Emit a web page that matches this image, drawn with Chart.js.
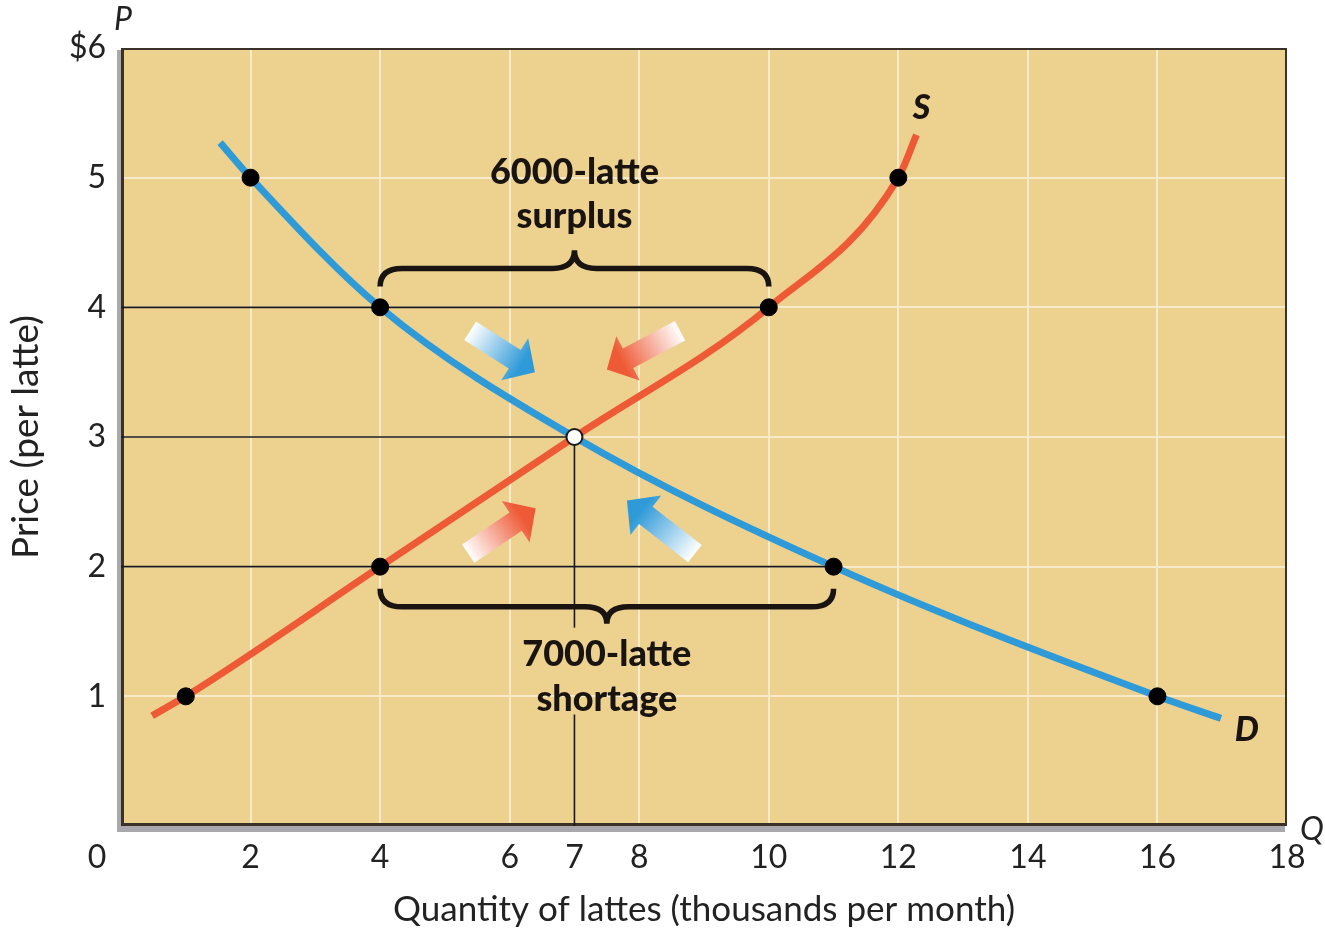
<!DOCTYPE html>
<html lang="en">
<head>
<meta charset="UTF-8">
<title>Latte market: surplus and shortage</title>
<script src="https://cdn.jsdelivr.net/npm/chart.js"></script>
<style>
  html, body { margin: 0; padding: 0; background: #fff; }
  canvas { display: block; }
</style>
</head>
<body>
<canvas id="latteChart" width="1325" height="935"></canvas>
<script>
// demand / supply curves (Q in thousands of lattes, P in $)
const demandQ = [1.53, 2, 4, 7, 11, 16, 16.98];
const demandP = [5.27, 5, 4, 3, 2, 1, 0.83];
const supplyQ = [0.48, 1, 4, 7, 10, 12, 12.28];
const supplyP = [0.85, 1, 2, 3, 4, 5, 5.33];

// black dots on the curves
const dotQ = [2, 4, 11, 16, 1, 4, 10, 12];
const dotP = [5, 4, 2, 1, 1, 2, 4, 5];
// equilibrium
const eqQ = [7];
const eqP = [3];

const xTicks = [0, 2, 4, 6, 7, 8, 10, 12, 14, 16, 18];
const yTicks = [0, 1, 2, 3, 4, 5, 6];

const BLUE = '#2f9ad8';
const RED = '#ee5a36';
const PLOT_BG = '#ecd18f';
const GRID = '#f7eacb';

// helper lines [q0, p0, q1, p1]
const guides = [
  [0, 4, 10, 4],
  [0, 3, 7, 3],
  [0, 2, 11, 2],
  [7, 3, 7, 1.53],
  [7, 0.86, 7, 0]
];

// gradient arrows: tail -> tip
const arrows = [
  { from: [5.39, 3.82], to: [6.39, 3.50], color: BLUE },
  { from: [8.63, 3.82], to: [7.50, 3.52], color: RED },
  { from: [5.36, 2.10], to: [6.40, 2.45], color: RED },
  { from: [8.86, 2.10], to: [7.81, 2.51], color: BLUE }
];

function toXY(q, p) {
  return q.map((v, i) => ({ x: v, y: p[i] }));
}

function px(chart, q, p) {
  return [chart.scales.x.getPixelForValue(q), chart.scales.y.getPixelForValue(p)];
}

function drawArrow(ctx, x0, y0, x1, y1, color) {
  const len = Math.hypot(x1 - x0, y1 - y0);
  ctx.save();
  ctx.translate(x0, y0);
  ctx.rotate(Math.atan2(y1 - y0, x1 - x0));
  const g = ctx.createLinearGradient(0, 0, len, 0);
  g.addColorStop(0, '#ffffff');
  g.addColorStop(0.8, color);
  ctx.fillStyle = g;
  const sw = 11, hw = 25, hl = 24;
  ctx.beginPath();
  ctx.moveTo(0, -sw);
  ctx.lineTo(len - hl, -sw);
  ctx.lineTo(len - hl, -hw);
  ctx.lineTo(len, 0);
  ctx.lineTo(len - hl, hw);
  ctx.lineTo(len - hl, sw);
  ctx.lineTo(0, sw);
  ctx.closePath();
  ctx.fill();
  ctx.restore();
}

function drawBrace(ctx, xl, xr, xm, yLine, yTip, yPeak) {
  const r = 22;
  ctx.beginPath();
  ctx.moveTo(xl, yTip);
  ctx.quadraticCurveTo(xl, yLine, xl + r, yLine);
  ctx.lineTo(xm - r, yLine);
  ctx.quadraticCurveTo(xm, yLine, xm, yPeak);
  ctx.quadraticCurveTo(xm, yLine, xm + r, yLine);
  ctx.lineTo(xr - r, yLine);
  ctx.quadraticCurveTo(xr, yLine, xr, yTip);
  ctx.stroke();
}

// plot background, shadow and frame
const framePlugin = {
  id: 'frame',
  beforeDraw(chart) {
    const { ctx, chartArea: a } = chart;
    ctx.save();
    ctx.fillStyle = '#a9a9ad';
    ctx.fillRect(a.left - 4, a.top + 2, a.right - a.left + 2, a.bottom - a.top + 4);
    ctx.fillStyle = PLOT_BG;
    ctx.fillRect(a.left, a.top, a.right - a.left, a.bottom - a.top);
    ctx.restore();
  },
  beforeDatasetsDraw(chart) {
    const { ctx, chartArea: a } = chart;
    ctx.save();
    ctx.strokeStyle = '#3a3128';
    ctx.lineWidth = 2;
    ctx.strokeRect(a.left + 1, a.top + 1, a.right - a.left - 2, a.bottom - a.top - 2);
    ctx.lineWidth = 3;
    ctx.beginPath();
    ctx.moveTo(a.left + 1.5, a.top);
    ctx.lineTo(a.left + 1.5, a.bottom - 1.5);
    ctx.lineTo(a.right, a.bottom - 1.5);
    ctx.stroke();

    // guide lines
    ctx.strokeStyle = '#1a1a1a';
    ctx.lineWidth = 1.6;
    guides.forEach(g => {
      const [x0, y0] = px(chart, g[0], g[1]);
      const [x1, y1] = px(chart, g[2], g[3]);
      ctx.beginPath();
      ctx.moveTo(x0, y0);
      ctx.lineTo(x1, y1);
      ctx.stroke();
    });

    // braces
    ctx.strokeStyle = '#1a1410';
    ctx.lineWidth = 5.5;
    const xs = chart.scales.x, ys = chart.scales.y;
    drawBrace(ctx, xs.getPixelForValue(4), xs.getPixelForValue(10), xs.getPixelForValue(7),
      ys.getPixelForValue(4.30), ys.getPixelForValue(4.16), ys.getPixelForValue(4.44));
    drawBrace(ctx, xs.getPixelForValue(4), xs.getPixelForValue(11), xs.getPixelForValue(7.5),
      ys.getPixelForValue(1.69), ys.getPixelForValue(1.83), ys.getPixelForValue(1.56));

    // arrows
    arrows.forEach(ar => {
      const [x0, y0] = px(chart, ar.from[0], ar.from[1]);
      const [x1, y1] = px(chart, ar.to[0], ar.to[1]);
      drawArrow(ctx, x0, y0, x1, y1, ar.color);
    });
    ctx.restore();
  },
  afterDatasetsDraw(chart) {
    const { ctx, chartArea: a } = chart;
    ctx.save();
    ctx.fillStyle = '#1a1410';
    ctx.textAlign = 'center';
    ctx.textBaseline = 'middle';
    ctx.font = '900 36px Lato';
    let p = px(chart, 7, 5.04);
    ctx.fillText('6000-latte', p[0], p[1]);
    p = px(chart, 7, 4.70);
    ctx.fillText('surplus', p[0], p[1]);
    p = px(chart, 7.5, 1.32);
    ctx.fillText('7000-latte', p[0], p[1]);
    p = px(chart, 7.5, 0.98);
    ctx.fillText('shortage', p[0], p[1]);

    ctx.font = 'italic 900 34px Lato';
    p = px(chart, 12.36, 5.54);
    ctx.fillText('S', p[0], p[1]);
    p = px(chart, 17.38, 0.74);
    ctx.fillText('D', p[0], p[1]);

    ctx.fillStyle = '#222';
    ctx.font = 'italic 32px Lato';
    ctx.fillText('P', a.left + 2, a.top - 28);
    ctx.fillText('Q', a.right + 25, a.bottom + 4);
    ctx.font = '32px Lato';
    ctx.fillText('0', a.left - 24, a.bottom + 32);
    ctx.restore();
  }
};

const ctx = document.getElementById('latteChart').getContext('2d');
new Chart(ctx, {
  type: 'scatter',
  data: {
    datasets: [
      {
        label: 'S',
        data: toXY(supplyQ, supplyP),
        showLine: true,
        borderColor: RED,
        borderWidth: 7,
        pointRadius: 0,
        cubicInterpolationMode: 'monotone',
        order: 3
      },
      {
        label: 'D',
        data: toXY(demandQ, demandP),
        showLine: true,
        borderColor: BLUE,
        borderWidth: 7,
        pointRadius: 0,
        cubicInterpolationMode: 'monotone',
        order: 2
      },
      {
        label: 'points',
        data: toXY(dotQ, dotP),
        pointRadius: 8.5,
        pointBackgroundColor: '#000',
        pointBorderColor: '#000',
        order: 1
      },
      {
        label: 'equilibrium',
        data: toXY(eqQ, eqP),
        pointRadius: 8,
        pointBorderWidth: 2,
        pointBackgroundColor: '#fff',
        pointBorderColor: '#1a1a1a',
        order: 0
      }
    ]
  },
  options: {
    responsive: false,
    animation: false,
    layout: { padding: { left: 0, top: 48, right: 38, bottom: 0 } },
    plugins: {
      legend: { display: false },
      tooltip: { enabled: false }
    },
    scales: {
      x: {
        type: 'linear',
        min: 0,
        max: 18,
        afterBuildTicks: s => { s.ticks = xTicks.map(v => ({ value: v })); },
        afterFit: s => { s.height = 109; },
        border: { display: false },
        grid: {
          drawTicks: false,
          lineWidth: 2,
          color: c => ([0, 7, 18].includes(c.tick.value) ? 'rgba(0,0,0,0)' : GRID)
        },
        ticks: {
          padding: 12,
          color: '#222',
          font: { family: 'Lato', size: 32 },
          callback: v => (v === 0 ? '' : String(v))
        },
        title: {
          display: true,
          text: 'Quantity of lattes (thousands per month)',
          color: '#222',
          font: { family: 'Lato', size: 35 },
          padding: { top: 1, bottom: 4 }
        }
      },
      y: {
        min: 0,
        max: 6,
        afterBuildTicks: s => { s.ticks = yTicks.map(v => ({ value: v })); },
        afterFit: s => { s.width = 121; },
        border: { display: false },
        grid: {
          drawTicks: false,
          lineWidth: 2,
          color: c => ([0, 6].includes(c.tick.value) ? 'rgba(0,0,0,0)' : GRID)
        },
        ticks: {
          padding: 15,
          color: '#222',
          font: { family: 'Lato', size: 32 },
          callback: v => (v === 0 ? '' : v === 6 ? '$6' : String(v))
        },
        title: {
          display: true,
          text: 'Price (per latte)',
          color: '#222',
          font: { family: 'Lato', size: 37 },
          padding: { top: 4, bottom: 4 }
        }
      }
    }
  },
  plugins: [framePlugin]
});
</script>
</body>
</html>
